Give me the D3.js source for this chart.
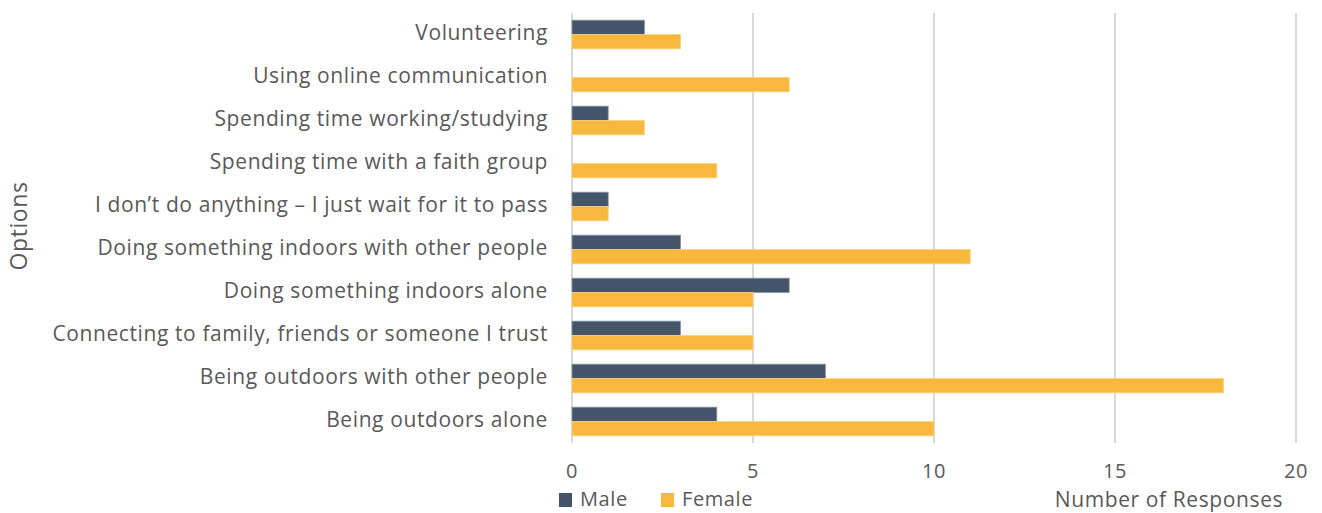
<!DOCTYPE html>
<html>
<head>
<meta charset="utf-8">
<script src="https://cdn.jsdelivr.net/npm/d3@7"></script>
<style>
  body { margin: 0; background: #fff; }
  text { font-family: "Open Sans", "Noto Sans", sans-serif; fill: #595959; letter-spacing: 0.6px; }
</style>
</head>
<body>
<div id="chart"></div>
<script>
'use strict';

// categories top to bottom
const options = [
    "Volunteering",
    "Using online communication",
    "Spending time working/studying",
    "Spending time with a faith group",
    "I don\u2019t do anything \u2013 I just wait for it to pass",
    "Doing something indoors with other people",
    "Doing something indoors alone",
    "Connecting to family, friends or someone I trust",
    "Being outdoors with other people",
    "Being outdoors alone"
];
const male = [2, 0, 1, 0, 1, 3, 6, 3, 7, 4];
const female = [3, 6, 2, 4, 1, 11, 5, 5, 18, 10];
const series = ["Male", "Female"];
const colors = ["#44546a", "#f8b83e"];
const ticks = [0, 5, 10, 15, 20];

const width = 1322, height = 513;
const margin = {top: 13, right: 26, bottom: 70, left: 572};

const svg = d3.select("#chart").append("svg")
    .attr("width", width)
    .attr("height", height);

const x = d3.scaleLinear()
    .domain([0, 20])
    .range([margin.left, width - margin.right]);

const y = d3.scaleBand()
    .domain(options)
    .range([margin.top, height - margin.bottom]);

const inner = d3.scaleBand()
    .domain(series)
    .range([0, y.bandwidth()])
    .paddingInner(0)
    .paddingOuter(0.5);

// gridlines
svg.append("g")
    .selectAll("line")
    .data(ticks)
    .enter()
    .append("line")
    .attr("x1", d => x(d)).attr("x2", d => x(d))
    .attr("y1", margin.top).attr("y2", height - margin.bottom)
    .attr("stroke", "#d9d9d9")
    .attr("stroke-width", 2);

// bars
const rows = options.map((o, i) => ({name: o, values: [male[i], female[i]]}));
const grp = svg.append("g").selectAll("g")
    .data(rows)
    .enter()
    .append("g")
    .attr("transform", d => "translate(0," + y(d.name) + ")");

grp.selectAll("rect")
    .data(d => d.values.map((v, j) => ({s: series[j], v: v, j: j})).filter(e => e.v > 0))
    .enter()
    .append("rect")
    .attr("x", x(0))
    .attr("y", d => inner(d.s))
    .attr("width", d => x(d.v) - x(0))
    .attr("height", inner.bandwidth())
    .attr("fill", d => colors[d.j])
    .attr("stroke", d => d.j === 0 ? "#8a97aa" : "#fcd27f")
    .attr("stroke-width", 0.8);

// category labels
svg.append("g")
    .selectAll("text")
    .data(options)
    .enter()
    .append("text")
    .attr("x", 548)
    .attr("y", d => y(d) + y.bandwidth() / 2)
    .attr("text-anchor", "end")
    .attr("dominant-baseline", "middle")
    .attr("font-size", 21)
    .text(d => d);

// x tick labels
svg.append("g")
    .selectAll("text")
    .data(ticks)
    .enter()
    .append("text")
    .attr("x", d => x(d))
    .attr("y", 478)
    .attr("text-anchor", "middle")
    .attr("font-size", 20)
    .text(d => d);

// axis titles
svg.append("text")
    .attr("x", 1169)
    .attr("y", 506.5)
    .attr("text-anchor", "middle")
    .attr("font-size", 21)
    .text("Number of Responses");

svg.append("text")
    .attr("transform", "translate(27,226) rotate(-90)")
    .attr("text-anchor", "middle")
    .attr("font-size", 23)
    .text("Options");

// legend
const legendX = [559, 661];
const leg = svg.append("g").selectAll("g")
    .data(series)
    .enter()
    .append("g")
    .attr("transform", (d, i) => "translate(" + legendX[i] + ",493)");
leg.append("rect")
    .attr("width", 13).attr("height", 14)
    .attr("fill", (d, i) => colors[i]);
leg.append("text")
    .attr("x", 21).attr("y", 8)
    .attr("dominant-baseline", "middle")
    .attr("font-size", 20)
    .text(d => d);
</script>
</body>
</html>
